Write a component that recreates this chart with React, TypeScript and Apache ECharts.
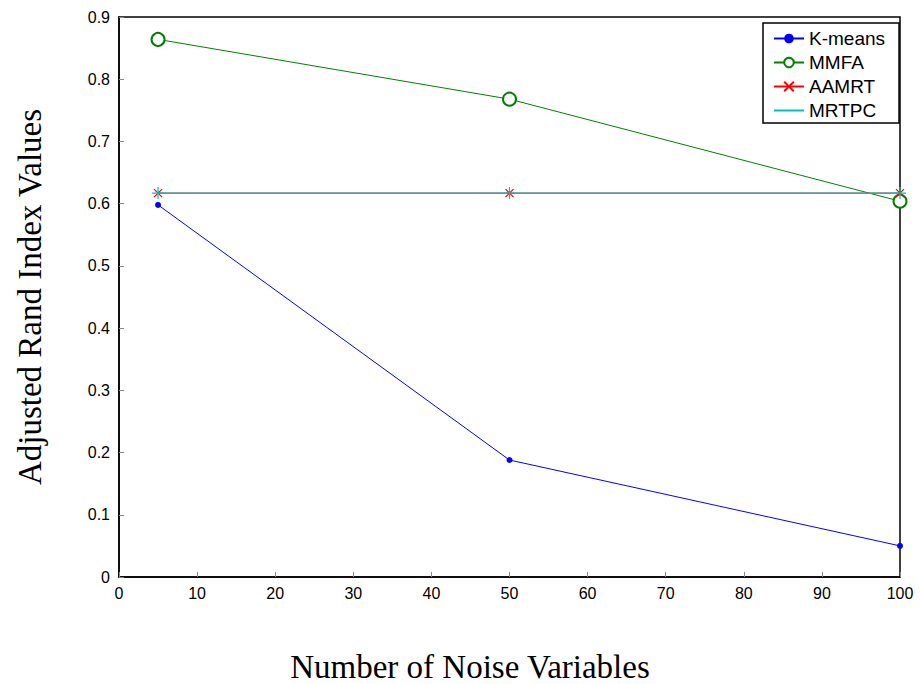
import React, { useEffect, useRef } from "react";
import * as echarts from "echarts";

const xValues = [5, 50, 100];
const kmeans = [0.598, 0.188, 0.05];
const mmfa = [0.864, 0.768, 0.604];
const aamrt = [0.617, 0.617, 0.617];
const mrtpc = [0.617, 0.617, 0.617];
const xTitle = "Number of Noise Variables";
const yTitle = "Adjusted Rand Index Values";

const pairs = (ys: number[]) => xValues.map((x, i) => [x, ys[i]]);

export default function App() {
  const ref = useRef<HTMLDivElement>(null);
  useEffect(() => {
    const chart = echarts.init(ref.current!, null, { renderer: "svg" });
    const tickFont = { fontFamily: "Liberation Sans, Arial", fontSize: 16, color: "#000" };
    const titleFont = "33px 'Liberation Serif', 'Times New Roman', serif";
    chart.setOption({
      animation: false,
      backgroundColor: "#fff",
      grid: {
        left: 119, right: 20, top: 17, bottom: 107,
        show: true, borderColor: "#000", borderWidth: 1.5,
      },
      graphic: [
        {
          type: "text", x: 470, y: 667,
          style: { text: xTitle, font: titleFont, fill: "#000", align: "center", verticalAlign: "middle" },
        },
        {
          type: "text", x: 30, y: 297, rotation: Math.PI / 2,
          style: { text: yTitle, font: titleFont, fill: "#000", align: "center", verticalAlign: "middle" },
        },
      ],
      legend: {
        data: [
          { name: "K-means" },
          { name: "MMFA" },
          { name: "AAMRT" },
          { name: "MRTPC", itemStyle: { opacity: 0 } },
        ],
        orient: "vertical",
        left: 763, top: 23,
        padding: [6, 14, 3, 10],
        itemWidth: 30, itemHeight: 12, itemGap: 5,
        borderColor: "#000", borderWidth: 1.5,
        backgroundColor: "#fff",
        textStyle: { fontFamily: "Liberation Sans, Arial", fontSize: 19, color: "#000" },
      },
      xAxis: {
        type: "value", min: 0, max: 100, interval: 10,
        axisLine: { show: true, lineStyle: { color: "#000", width: 1.5 } },
        axisTick: { show: true, inside: true, length: 5, lineStyle: { color: "#888" } },
        axisLabel: { ...tickFont, margin: 8 },
        splitLine: { show: false },
      },
      yAxis: {
        type: "value", min: 0, max: 0.9, interval: 0.1,
        axisLine: { show: true, lineStyle: { color: "#000", width: 1.5 } },
        axisTick: { show: true, inside: true, length: 5, lineStyle: { color: "#888" } },
        axisLabel: { ...tickFont, margin: 9, formatter: (v: number) => (v === 0 ? "0" : v.toFixed(1)) },
        splitLine: { show: false },
      },
      series: [
        {
          name: "K-means", type: "line", data: pairs(kmeans),
          symbol: "circle", symbolSize: 6,
          lineStyle: { color: "#0000ff", width: 1 },
          itemStyle: { color: "#0000ff" },
        },
        {
          name: "MMFA", type: "line", data: pairs(mmfa),
          symbol: "emptyCircle", symbolSize: 13,
          lineStyle: { color: "#008000", width: 1 },
          itemStyle: { color: "#008000", borderColor: "#008000", borderWidth: 1.2 },
        },
        {
          name: "AAMRT", type: "line", data: pairs(aamrt),
          symbol: "path://M0,0L10,10M10,0L0,10", symbolSize: 8,
          lineStyle: { color: "#ff0000", width: 1 },
          itemStyle: { color: "#ff0000", borderColor: "#ff0000", borderWidth: 1.2 },
        },
        {
          name: "MRTPC", type: "line", data: pairs(mrtpc),
          symbol: "path://M5,0L5,10M0,5L10,5", symbolSize: 12,
          lineStyle: { color: "#00bfbf", width: 1.2 },
          itemStyle: { color: "#00bfbf", borderColor: "#00bfbf", borderWidth: 1.2 },
        },
      ],
    });
    return () => chart.dispose();
  }, []);
  return <div ref={ref} style={{ width: 920, height: 684, position: "absolute", left: 0, top: 0 }} />;
}
